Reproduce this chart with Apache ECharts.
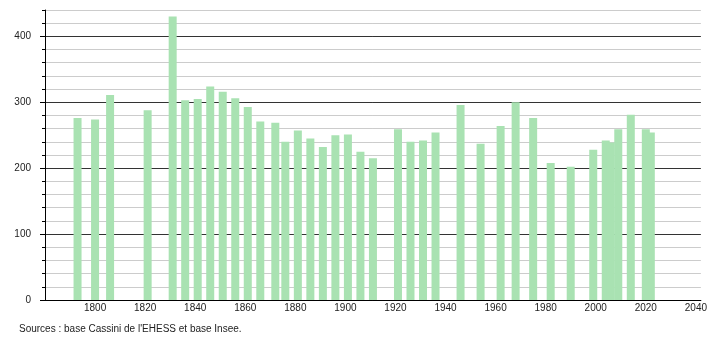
<!DOCTYPE html>
<html>
<head>
<meta charset="utf-8">
<script src="https://cdn.jsdelivr.net/npm/echarts@6/dist/echarts.min.js"></script>
<style>
html,body{margin:0;padding:0;background:#fff;}
#chart{width:710px;height:340px;}
</style>
</head>
<body>
<div id="chart"></div>
<script>
var years = [1793,1800,1806,1821,1831,1836,1841,1846,1851,1856,1861,1866,1872,1876,1881,1886,1891,1896,1901,1906,1911,1921,1926,1931,1936,1946,1954,1962,1968,1975,1982,1990,1999,2004,2006,2009,2014,2020,2022];
var population = [276,274,311,288,430,303,305,324,316,306,293,271,269,240,257,245,232,250,251,225,215,259,240,242,254,296,237,264,300,276,208,202,228,242,239,259,281,259,254];
var yMajorTicks = [0,100,200,300,400];
var xTickLabels = [1800,1820,1840,1860,1880,1900,1920,1940,1960,1980,2000,2020,2040];
var sourceText = "Sources : base Cassini de l'EHESS et base Insee.";

var data = years.map(function (y, i) { return [y, population[i]]; });
var font = '"Liberation Sans", Arial, sans-serif';

var chart = echarts.init(document.getElementById('chart'), null, {renderer: 'canvas'});
chart.setOption({
  animation: false,
  backgroundColor: '#ffffff',
  title: {
    text: sourceText,
    left: 19,
    top: 323,
    padding: 0,
    textStyle: {fontSize: 10, fontWeight: 'normal', color: '#222', fontFamily: font, lineHeight: 12}
  },
  grid: {left: 45, right: 9, top: 10, bottom: 40, containLabel: false},
  xAxis: {
    type: 'value',
    min: 1780,
    max: 2042,
    interval: 20,
    axisLine: {show: true, lineStyle: {color: '#000', width: 1}},
    axisTick: {show: false},
    splitLine: {show: false},
    axisLabel: {
      margin: 3,
      fontSize: 10,
      color: '#222',
      fontFamily: font,
      customValues: xTickLabels,
      formatter: function (v) { return String(v); }
    }
  },
  yAxis: [{
    type: 'value',
    min: 0,
    max: 440,
    interval: 20,
    position: 'left',
    axisLine: {show: true, onZero: false, lineStyle: {color: '#000', width: 1}},
    axisTick: {show: true, length: 3, lineStyle: {color: '#000'}},
    axisLabel: {show: false},
    splitLine: {show: true, lineStyle: {color: ['#333333', '#cccccc', '#cccccc', '#cccccc', '#cccccc'], width: 1}}
  }, {
    type: 'value',
    min: 0,
    max: 440,
    position: 'left',
    axisLine: {show: false},
    axisTick: {show: true, length: 5, customValues: yMajorTicks, lineStyle: {color: '#000'}},
    axisLabel: {
      margin: 14,
      fontSize: 10,
      color: '#222',
      fontFamily: font,
      customValues: yMajorTicks,
      formatter: function (v) { return String(v); }
    },
    splitLine: {show: false}
  }],
  series: [{
    type: 'bar',
    yAxisIndex: 0,
    data: data,
    barWidth: 8,
    itemStyle: {color: '#a9e2b2'}
  }]
});
</script>
</body>
</html>
